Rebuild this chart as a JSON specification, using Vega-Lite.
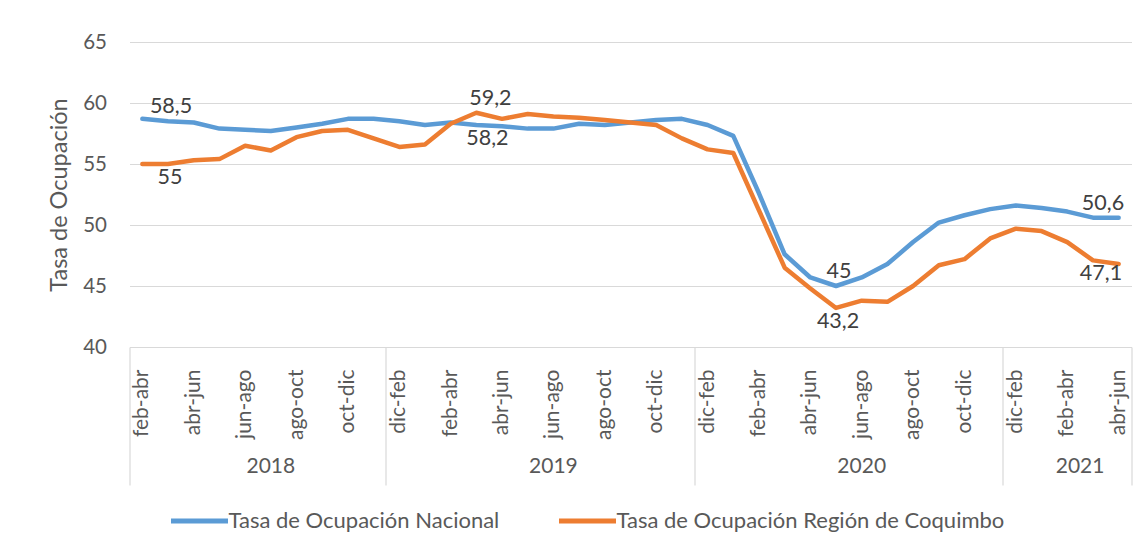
{
  "$schema": "https://vega.github.io/schema/vega-lite/v6.json",
  "width": 1002,
  "height": 305,
  "autosize": {"type": "none"},
  "padding": {"left": 129.5, "top": 42, "right": 14.5, "bottom": 205},
  "background": "white",
  "config": {
    "font": "Lato",
    "view": {"stroke": null},
    "locale": {"number": {"decimal": ",", "thousands": ".", "grouping": [3], "currency": ["$", ""]}}
  },
  "data": {
    "values": [
      {"k": "2018-03 feb-abr", "nac": 58.7, "coq": 55.0},
      {"k": "2018-04 mar-may", "nac": 58.5, "coq": 55.0, "etiqueta": true},
      {"k": "2018-05 abr-jun", "nac": 58.4, "coq": 55.3},
      {"k": "2018-06 may-jul", "nac": 57.9, "coq": 55.4},
      {"k": "2018-07 jun-ago", "nac": 57.8, "coq": 56.5},
      {"k": "2018-08 jul-sep", "nac": 57.7, "coq": 56.1},
      {"k": "2018-09 ago-oct", "nac": 58.0, "coq": 57.2},
      {"k": "2018-10 sep-nov", "nac": 58.3, "coq": 57.7},
      {"k": "2018-11 oct-dic", "nac": 58.7, "coq": 57.8},
      {"k": "2018-12 nov-ene", "nac": 58.7, "coq": 57.1},
      {"k": "2019-01 dic-feb", "nac": 58.5, "coq": 56.4},
      {"k": "2019-02 ene-mar", "nac": 58.2, "coq": 56.6},
      {"k": "2019-03 feb-abr", "nac": 58.4, "coq": 58.3},
      {"k": "2019-04 mar-may", "nac": 58.2, "coq": 59.2, "etiqueta": true},
      {"k": "2019-05 abr-jun", "nac": 58.1, "coq": 58.7},
      {"k": "2019-06 may-jul", "nac": 57.9, "coq": 59.1},
      {"k": "2019-07 jun-ago", "nac": 57.9, "coq": 58.9},
      {"k": "2019-08 jul-sep", "nac": 58.3, "coq": 58.8},
      {"k": "2019-09 ago-oct", "nac": 58.2, "coq": 58.6},
      {"k": "2019-10 sep-nov", "nac": 58.4, "coq": 58.4},
      {"k": "2019-11 oct-dic", "nac": 58.6, "coq": 58.2},
      {"k": "2019-12 nov-ene", "nac": 58.7, "coq": 57.1},
      {"k": "2020-01 dic-feb", "nac": 58.2, "coq": 56.2},
      {"k": "2020-02 ene-mar", "nac": 57.3, "coq": 55.9},
      {"k": "2020-03 feb-abr", "nac": 52.6, "coq": 51.2},
      {"k": "2020-04 mar-may", "nac": 47.6, "coq": 46.5},
      {"k": "2020-05 abr-jun", "nac": 45.7, "coq": 44.8},
      {"k": "2020-06 may-jul", "nac": 45.0, "coq": 43.2, "etiqueta": true},
      {"k": "2020-07 jun-ago", "nac": 45.7, "coq": 43.8},
      {"k": "2020-08 jul-sep", "nac": 46.8, "coq": 43.7},
      {"k": "2020-09 ago-oct", "nac": 48.6, "coq": 45.0},
      {"k": "2020-10 sep-nov", "nac": 50.2, "coq": 46.7},
      {"k": "2020-11 oct-dic", "nac": 50.8, "coq": 47.2},
      {"k": "2020-12 nov-ene", "nac": 51.3, "coq": 48.9},
      {"k": "2021-01 dic-feb", "nac": 51.6, "coq": 49.7},
      {"k": "2021-02 ene-mar", "nac": 51.4, "coq": 49.5},
      {"k": "2021-03 feb-abr", "nac": 51.1, "coq": 48.6},
      {"k": "2021-04 mar-may", "nac": 50.6, "coq": 47.1, "etiqueta": true},
      {"k": "2021-05 abr-jun", "nac": 50.6, "coq": 46.8}
    ]
  },
  "transform": [{"fold": ["nac", "coq"], "as": ["serie", "valor"]}],
  "encoding": {
    "y": {
      "field": "valor", "type": "quantitative",
      "scale": {"domain": [40, 65], "nice": false, "zero": false},
      "axis": {
        "values": [40, 45, 50, 55, 60, 65],
        "grid": true, "gridColor": "#D9D9D9", "gridWidth": 1.2,
        "domain": false, "ticks": false, "tickSize": 0,
        "labelFontSize": 20.5, "labelColor": "#595959", "labelPadding": 23,
        "title": "Tasa de Ocupación", "titleFontSize": 23.5, "titleFontWeight": "normal",
        "titleColor": "#595959", "titlePadding": 11
      }
    }
  },
  "resolve": {"axis": {"x": "independent"}},
  "layer": [
    {
      "mark": {"type": "line", "strokeWidth": 4.5, "strokeCap": "round", "strokeJoin": "round"},
      "encoding": {
        "x": {
          "field": "k", "type": "nominal", "bandPosition": 0.5,
          "scale": {"type": "band", "paddingInner": 0, "paddingOuter": 0},
          "axis": {
            "orient": "bottom",
            "bandPosition": 0.5,
            "values": ["2018-03 feb-abr", "2018-05 abr-jun", "2018-07 jun-ago", "2018-09 ago-oct", "2018-11 oct-dic", "2019-01 dic-feb", "2019-03 feb-abr", "2019-05 abr-jun", "2019-07 jun-ago", "2019-09 ago-oct", "2019-11 oct-dic", "2020-01 dic-feb", "2020-03 feb-abr", "2020-05 abr-jun", "2020-07 jun-ago", "2020-09 ago-oct", "2020-11 oct-dic", "2021-01 dic-feb", "2021-03 feb-abr", "2021-05 abr-jun"],
            "labelExpr": "substring(datum.value, 8)",
            "labelAngle": 270,
            "labelAlign": "right",
            "labelBaseline": "middle",
            "labelFontSize": 21,
            "labelColor": "#595959",
            "labelPadding": 22,
            "labelOverlap": false,
            "ticks": false,
            "tickSize": 0,
            "domain": false,
            "grid": false,
            "title": null
          }
        },
        "color": {
          "field": "serie", "type": "nominal",
          "scale": {"domain": ["nac", "coq"], "range": ["#5B9BD5", "#ED7D31"]},
          "legend": {
            "orient": "none", "legendX": 39, "legendY": 448, "direction": "horizontal",
            "title": null, "symbolType": "stroke", "symbolSize": 3249, "symbolStrokeWidth": 5,
            "labelFontSize": 22, "labelColor": "#595959", "labelOffset": -2, "columnPadding": 49,
            "labelLimit": 500,
            "labelExpr": "datum.value == 'nac' ? 'Tasa de Ocupación Nacional' : 'Tasa de Ocupación Región de Coquimbo'"
          }
        }
      }
    },
    {
      "transform": [{"filter": "datum.etiqueta && ((datum.serie == 'nac') == (datum.nac >= datum.coq))"}],
      "mark": {
        "type": "text", "dy": -14, "fontSize": 21.5, "color": "#404040",
        "dx": {"expr": "datum.k == '2019-04 mar-may' ? 14 : (datum.k == '2021-04 mar-may' ? 10 : 3)"}
      },
      "encoding": {
        "x": {
          "field": "k", "type": "nominal", "bandPosition": 0.5,
          "scale": {"type": "band", "paddingInner": 0, "paddingOuter": 0},
          "axis": {
            "orient": "bottom", "bandPosition": 1,
            "values": ["2018-12 nov-ene", "2019-12 nov-ene", "2020-12 nov-ene", "2021-05 abr-jun"],
            "ticks": true, "tickSize": 138, "tickColor": "#D9D9D9", "tickWidth": 1.2,
            "labels": false, "domain": false, "grid": false, "title": null
          }
        },
        "text": {"field": "valor", "type": "quantitative", "format": ".1~f"}
      }
    },
    {
      "transform": [{"filter": "datum.etiqueta && ((datum.serie == 'nac') != (datum.nac >= datum.coq))"}],
      "mark": {
        "type": "text", "dy": 14, "fontSize": 21.5, "color": "#404040",
        "dx": {"expr": "datum.k == '2019-04 mar-may' ? 11 : (datum.k == '2021-04 mar-may' ? 8 : 2)"}
      },
      "encoding": {
        "x": {
          "field": "k", "type": "nominal", "bandPosition": 0.5,
          "scale": {"type": "band", "paddingInner": 0, "paddingOuter": 0},
          "axis": {
            "orient": "bottom", "bandPosition": 0,
            "values": ["2018-03 feb-abr", "2018-08 jul-sep", "2019-07 jun-ago", "2020-07 jun-ago", "2021-03 feb-abr"],
            "ticks": true, "tickSize": 138, "tickColor": "#D9D9D9", "tickWidth": 1.2,
            "tickOpacity": {"condition": {"test": "datum.value == '2018-03 feb-abr'", "value": 1}, "value": 0},
            "labelExpr": "datum.value == '2018-03 feb-abr' ? '' : substring(datum.value, 0, 4)",
            "labelAngle": 0, "labelAlign": "center", "labelBaseline": "top",
            "labelFontSize": 21, "labelColor": "#595959", "labelPadding": -30,
            "labelOffset": {"condition": {"test": "datum.value == '2021-03 feb-abr'", "value": 12.85}, "value": 0},
            "labelOverlap": false,
            "domain": false, "grid": false, "title": null
          }
        },
        "text": {"field": "valor", "type": "quantitative", "format": ".1~f"}
      }
    }
  ]
}
